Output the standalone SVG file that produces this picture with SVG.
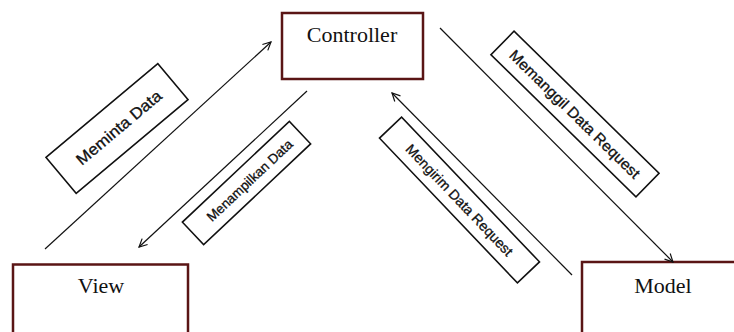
<svg xmlns="http://www.w3.org/2000/svg" width="734" height="332" viewBox="0 0 734 332">
<style>
.node{fill:#fff;stroke:#5a1515;stroke-width:2.5}
.ntext{font-family:"Liberation Serif","Times New Roman",serif;font-size:22px;fill:#111;text-anchor:middle}
.conn{stroke:#111;stroke-width:1.2;fill:none}
.lbox{fill:#fff;stroke:#111;stroke-width:1.6}
.ltext{font-family:"Liberation Sans",Arial,sans-serif;fill:#111;stroke:#111;stroke-width:0.3;text-anchor:middle}
</style>
<defs>
<marker id="arr" viewBox="0 0 10 10" refX="9" refY="5" markerWidth="10" markerHeight="10" markerUnits="userSpaceOnUse" orient="auto">
<path d="M1,1 L9,5 L1,9" fill="none" stroke="#111" stroke-width="1.2"/>
</marker>
</defs>
<rect width="734" height="332" fill="#fff"/>
<g id="controller">
<rect class="node" x="282" y="13" width="141" height="66"/>
<text class="ntext" x="352" y="42">Controller</text>
</g>
<g id="view">
<rect class="node" x="13" y="264.5" width="175" height="80"/>
<text class="ntext" x="101" y="293">View</text>
</g>
<g id="model">
<rect class="node" x="582" y="262" width="165" height="80"/>
<text class="ntext" x="663" y="293">Model</text>
</g>
<g id="connectors">
<line class="conn" x1="45" y1="249" x2="271" y2="42" marker-end="url(#arr)"/>
<line class="conn" x1="307" y1="91" x2="139" y2="247" marker-end="url(#arr)"/>
<line class="conn" x1="572" y1="275" x2="392" y2="93" marker-end="url(#arr)"/>
<line class="conn" x1="440" y1="28" x2="673" y2="262" marker-end="url(#arr)"/>
</g>
<g id="label-meminta" transform="translate(117,128.5) rotate(-40)">
<rect class="lbox" x="-73" y="-23.5" width="146" height="47"/>
<text class="ltext" x="2" y="6" font-size="16" textLength="106" lengthAdjust="spacingAndGlyphs">Meminta Data</text>
</g>
<g id="label-menampilkan" transform="translate(246.5,183) rotate(-43.3)">
<rect class="lbox" x="-73.5" y="-15.5" width="147" height="31"/>
<text class="ltext" x="4" y="5" font-size="13.5" textLength="112" lengthAdjust="spacingAndGlyphs">Menampilkan Data</text>
</g>
<g id="label-mengirim" transform="translate(459.5,200) rotate(46.4)">
<rect class="lbox" x="-100" y="-15.25" width="200" height="30.5"/>
<text class="ltext" x="0" y="5" font-size="14" textLength="148" lengthAdjust="spacingAndGlyphs">Mengirim Data Request</text>
</g>
<g id="label-memanggil" transform="translate(575,114) rotate(44.4)">
<rect class="lbox" x="-101.5" y="-16.5" width="203" height="33"/>
<text class="ltext" x="0" y="5.5" font-size="15" textLength="176" lengthAdjust="spacingAndGlyphs">Memanggil Data Request</text>
</g>
</svg>
